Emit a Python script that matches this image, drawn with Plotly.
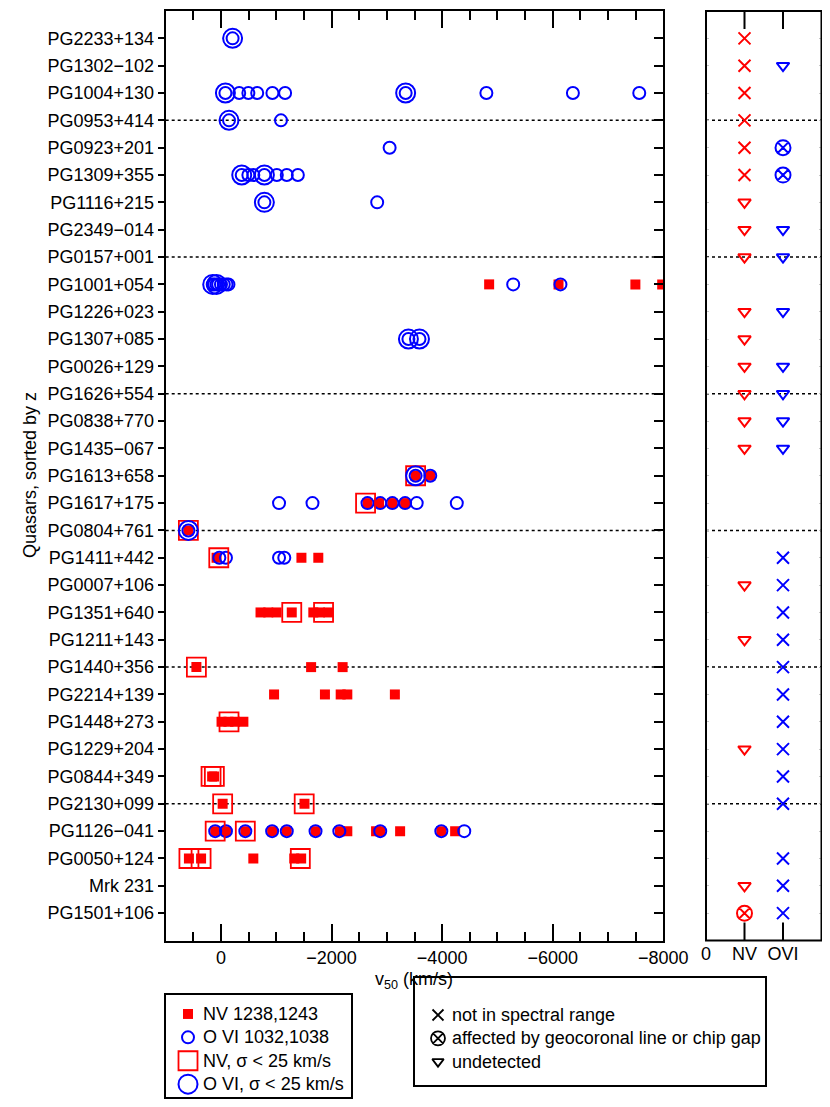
import plotly.graph_objects as go

quasars = [
    "PG2233+134", "PG1302−102", "PG1004+130", "PG0953+414", "PG0923+201",
    "PG1309+355", "PG1116+215", "PG2349−014", "PG0157+001", "PG1001+054",
    "PG1226+023", "PG1307+085", "PG0026+129", "PG1626+554", "PG0838+770",
    "PG1435−067", "PG1613+658", "PG1617+175", "PG0804+761", "PG1411+442",
    "PG0007+106", "PG1351+640", "PG1211+143", "PG1440+356", "PG2214+139",
    "PG1448+273", "PG1229+204", "PG0844+349", "PG2130+099", "PG1126−041",
    "PG0050+124", "Mrk 231", "PG1501+106",
]
dotted_rows = ["PG0953+414", "PG0157+001", "PG1626+554", "PG0804+761",
               "PG1440+356", "PG2130+099"]

# v50 in km/s per quasar
nv_v50 = {
    "PG1001+054": [-4850, -6105, -7495, -7980],
    "PG1613+658": [-3520, -3785],
    "PG1617+175": [-2650, -2860, -3100, -3330],
    "PG0804+761": [590],
    "PG1411+442": [80, -1455, -1760],
    "PG1351+640": [-715, -855, -1005, -1280, -1670, -1790, -1940],
    "PG1440+356": [445, -1630, -2200],
    "PG2214+139": [-960, -1880, -2165, -2285, -3145],
    "PG1448+273": [-10, -135, -255, -405],
    "PG0844+349": [160, 125],
    "PG2130+099": [-30, -1510],
    "PG1126−041": [105, -90, -440, -925, -1190, -1710, -2150, -2285,
                   -2805, -2880, -3240, -3985, -4235],
    "PG0050+124": [580, 360, -585, -1325, -1450],
}
ovi_v50 = {
    "PG2233+134": [-210],
    "PG1004+130": [-80, -330, -495, -655, -930, -1160, -3340, -4800, -6365, -7565],
    "PG0953+414": [-145, -1085],
    "PG0923+201": [-3050],
    "PG1309+355": [-375, -495, -585, -785, -1010, -1190, -1390],
    "PG1116+215": [-785, -2825],
    "PG1001+054": [150, 120, 80, 50, 0, -50, -100, -135, -5285, -6140],
    "PG1307+085": [-3390, -3590],
    "PG1613+658": [-3520, -3785],
    "PG1617+175": [-1050, -1655, -2650, -2880, -3100, -3330, -3540, -4265],
    "PG0804+761": [590],
    "PG1411+442": [30, -90, -1050, -1145],
    "PG1126−041": [105, -90, -440, -925, -1190, -1710, -2140, -2880, -3985, -4400],
}
nv_narrow = {
    "PG1613+658": [-3520],
    "PG1617+175": [-2615],
    "PG0804+761": [590],
    "PG1411+442": [40],
    "PG1351+640": [-1280, -1855],
    "PG1440+356": [445],
    "PG1448+273": [-145],
    "PG0844+349": [180, 120],
    "PG2130+099": [-30, -1505],
    "PG1126−041": [105, -440],
    "PG0050+124": [580, 360, -1435],
}
ovi_narrow = {
    "PG2233+134": [-210],
    "PG1004+130": [-80, -3340],
    "PG0953+414": [-145],
    "PG1309+355": [-375, -785],
    "PG1116+215": [-785],
    "PG1001+054": [150, 80],
    "PG1307+085": [-3390, -3590],
    "PG1613+658": [-3520],
    "PG0804+761": [590],
}

# status flags for the right panel
nv_not_in_range = ["PG2233+134", "PG1302−102", "PG1004+130", "PG0953+414",
                   "PG0923+201", "PG1309+355"]
nv_geocoronal = ["PG1501+106"]
nv_undetected = ["PG1116+215", "PG2349−014", "PG0157+001", "PG1226+023",
                 "PG1307+085", "PG0026+129", "PG1626+554", "PG0838+770",
                 "PG1435−067", "PG0007+106", "PG1211+143", "PG1229+204",
                 "Mrk 231"]
ovi_not_in_range = ["PG1411+442", "PG0007+106", "PG1351+640", "PG1211+143",
                    "PG1440+356", "PG2214+139", "PG1448+273", "PG1229+204",
                    "PG0844+349", "PG2130+099", "PG0050+124", "Mrk 231",
                    "PG1501+106"]
ovi_geocoronal = ["PG0923+201", "PG1309+355"]
ovi_undetected = ["PG1302−102", "PG2349−014", "PG0157+001", "PG1226+023",
                  "PG0026+129", "PG1626+554", "PG0838+770", "PG1435−067"]

columns = ["0", "NV", "OVI"]

RED = "#ff0000"
BLUE = "#0000ff"
FONT = "Liberation Sans, Arial, sans-serif"
OFF = 8  # page body margin
W, H = 830 - OFF, 1107 - OFF


def flatten(d):
    xs, ys = [], []
    for q, vals in d.items():
        for v in vals:
            xs.append(v)
            ys.append(q)
    return xs, ys


# screen pixels -> paper fractions
def px_x(a, b):
    return [(a - OFF) / W, (b - OFF) / W]


def px_y(top, bottom):
    return [1 - (bottom - OFF) / H, 1 - (top - OFF) / H]


fig = go.Figure()
annotations = []

# main panel + its legend box (drawn on x4/y4)
series = [
    (nv_v50, "NV 1238,1243", dict(symbol="square", size=10, color=RED, line=dict(width=0))),
    (ovi_v50, "O VI 1032,1038", dict(symbol="circle-open", size=12, color=BLUE, line=dict(width=2))),
    (nv_narrow, "NV, σ < 25 km/s", dict(symbol="square-open", size=19, color=RED, line=dict(width=1.8))),
    (ovi_narrow, "O VI, σ < 25 km/s", dict(symbol="circle-open", size=19, color=BLUE, line=dict(width=2))),
]
for i, (d, name, marker) in enumerate(series):
    xs, ys = flatten(d)
    fig.add_trace(go.Scatter(x=xs, y=ys, mode="markers", name=name, marker=marker,
                             xaxis="x", yaxis="y"))
    fig.add_trace(go.Scatter(x=[22], y=[i], mode="markers", marker=marker,
                             xaxis="x4", yaxis="y4", hoverinfo="skip"))
    annotations.append(dict(text=name, x=35, y=i, xref="x4", yref="y4",
                            xanchor="left", yanchor="middle", showarrow=False))

# right panel
flags = [
    (nv_not_in_range, 1, RED, "x-thin-open", 12),
    (nv_geocoronal, 1, RED, "circle-x-open", 15),
    (nv_undetected, 1, RED, "triangle-down-open", 11),
    (ovi_not_in_range, 2, BLUE, "x-thin-open", 12),
    (ovi_geocoronal, 2, BLUE, "circle-x-open", 15),
    (ovi_undetected, 2, BLUE, "triangle-down-open", 11),
]
for names, col, color, symbol, size in flags:
    fig.add_trace(go.Scatter(
        x=[col] * len(names), y=names, mode="markers",
        marker=dict(symbol=symbol, size=size, color=color, line=dict(width=2, color=color)),
        xaxis="x2", yaxis="y2"))

# legend box for the flag symbols (x5/y5)
flag_keys = [("not in spectral range", "x-thin-open", 11),
             ("affected by geocoronal line or chip gap", "circle-x-open", 14),
             ("undetected", "triangle-down-open", 10)]
for i, (name, symbol, size) in enumerate(flag_keys):
    fig.add_trace(go.Scatter(
        x=[23], y=[i], mode="markers",
        marker=dict(symbol=symbol, size=size, color="black", line=dict(width=1.8, color="black")),
        xaxis="x5", yaxis="y5", hoverinfo="skip"))
    annotations.append(dict(text=name, x=35, y=i, xref="x5", yref="y5",
                            xanchor="left", yanchor="middle", showarrow=False))

# inward ticks on the right edge of the main panel
fig.add_trace(go.Scatter(x=[None], y=[None], xaxis="x", yaxis="y3", hoverinfo="skip"))

shapes = []
for q in dotted_rows:
    row = quasars.index(q)
    for xr, yr in [("x domain", "y"), ("x2 domain", "y2")]:
        shapes.append(dict(type="line", xref=xr, x0=0, x1=1, yref=yr, y0=row, y1=row,
                           line=dict(color="black", width=1.5, dash="dot"), layer="below"))
# frame of the status panel and its column ticks (top and bottom)
shapes.append(dict(type="rect", xref="x2 domain", yref="y2 domain", x0=0, x1=1, y0=0, y1=1,
                   line=dict(color="black", width=2), layer="above"))
tick_frac = 18 / 929.5
for col in (1, 2):
    for y0, y1 in [(0, tick_frac), (1 - tick_frac, 1)]:
        shapes.append(dict(type="line", xref="x2", x0=col, x1=col, yref="y2 domain",
                           y0=y0, y1=y1, line=dict(color="black", width=2), layer="above"))

axis_common = dict(showline=True, linewidth=2, linecolor="black", showgrid=False,
                   zeroline=False, tickcolor="black", automargin=False)
box_axis = dict(showline=True, linewidth=1.5, linecolor="black", mirror=True,
                showgrid=False, zeroline=False, showticklabels=False, ticks="",
                automargin=False, fixedrange=True)

plot_y = px_y(11, 940.5)

annotations += [
    dict(text="Quasars, sorted by z", xref="paper", yref="paper",
         x=(30 - OFF) / W, y=1 - (475 - OFF) / H, textangle=-90,
         xanchor="center", yanchor="middle", showarrow=False),
    dict(text="v<sub>50</sub> (km/s)", xref="paper", yref="paper",
         x=(414 - OFF) / W, y=1 - (980 - OFF) / H,
         xanchor="center", yanchor="middle", showarrow=False),
]

fig.update_layout(
    width=W, height=H,
    margin=dict(l=0, r=0, t=0, b=0, autoexpand=False),
    paper_bgcolor="white", plot_bgcolor="white",
    font=dict(family=FONT, size=18, color="black"),
    showlegend=False,
    xaxis=dict(domain=px_x(165.7, 663.3), range=[1000, -8000], tick0=0, dtick=2000,
               ticks="inside", ticklen=17, tickwidth=2, mirror="ticks", anchor="y",
               minor=dict(dtick=500, ticks="inside", ticklen=9, tickwidth=1.5,
                          tickcolor="black"),
               **axis_common),
    yaxis=dict(domain=plot_y, type="category", categoryorder="array",
               categoryarray=quasars, range=[33, -1], ticks="outside", ticklen=6,
               tickwidth=2, mirror=True, anchor="x", **axis_common),
    yaxis3=dict(overlaying="y", side="right", anchor="x", range=[33, -1],
                tickvals=list(range(len(quasars))), ticks="inside", ticklen=9,
                tickwidth=2, tickcolor="black", showticklabels=False,
                showgrid=False, zeroline=False, showline=False, automargin=False),
    xaxis2=dict(domain=px_x(706, 821.5), range=[0, 3], tickvals=[0, 1, 2],
                ticktext=columns, ticks="", anchor="y2", showline=False,
                showgrid=False, zeroline=False, automargin=False),
    yaxis2=dict(domain=plot_y, matches="y", anchor="x2",
                showticklabels=False, ticks="inside", ticklen=3, tickwidth=1,
                mirror="ticks", showline=False, showgrid=False, zeroline=False,
                tickcolor="#c8c8c8", automargin=False),
    xaxis4=dict(domain=px_x(166, 350.7), range=[0, 184.7], anchor="y4", **box_axis),
    yaxis4=dict(domain=px_y(995, 1097), range=[3.55, -0.81], anchor="x4", **box_axis),
    xaxis5=dict(domain=px_x(415, 765), range=[0, 350], anchor="y5", **box_axis),
    yaxis5=dict(domain=px_y(978, 1085), range=[3.0, -1.585], anchor="x5", **box_axis),
    shapes=shapes,
    annotations=annotations,
)

fig.write_html("out.html")
